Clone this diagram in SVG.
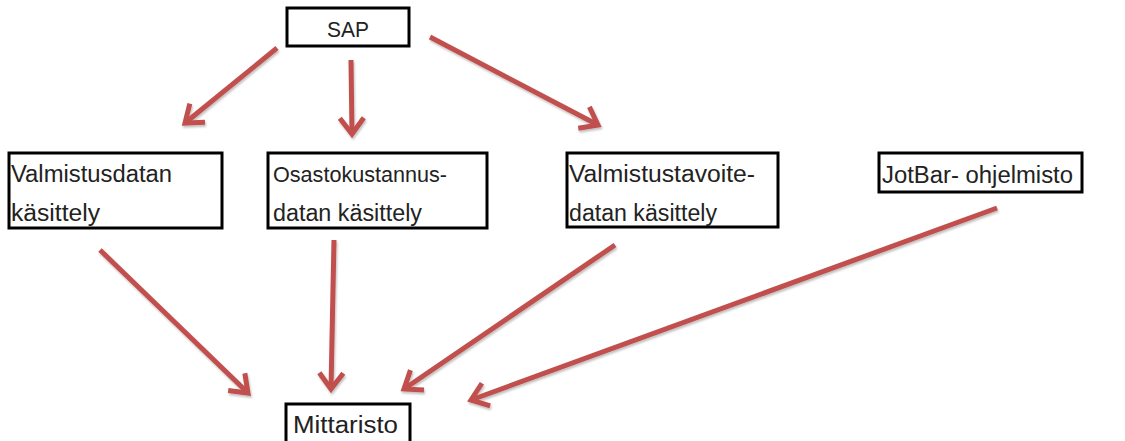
<svg xmlns="http://www.w3.org/2000/svg" width="1125" height="441" viewBox="0 0 1125 441">
<style>
.box{fill:#fff;stroke:#000;stroke-width:3}
.t{font-family:"Liberation Sans",Arial,sans-serif;font-size:23px;fill:#222}
.c{fill:none;stroke:#C0504D;stroke-width:5;stroke-linecap:butt}
</style>
<defs>
<marker id="ah" markerUnits="userSpaceOnUse" markerWidth="40" markerHeight="40" viewBox="-24 -20 30 40" refX="0" refY="0" orient="auto">
<path d="M-16,-12 L0,0 L-16,12" fill="none" stroke="#C0504D" stroke-width="5" stroke-linejoin="miter"/>
</marker>
<filter id="sh" x="-10%" y="-10%" width="120%" height="120%">
<feDropShadow dx="1" dy="2" stdDeviation="1.2" flood-color="#000" flood-opacity="0.25"/>
</filter>
</defs>
<rect width="1125" height="441" fill="#fff"/>
<g id="connectors" filter="url(#sh)">
<line class="c" x1="277" y1="48" x2="185" y2="123" marker-end="url(#ah)"/>
<line class="c" x1="351" y1="60" x2="352" y2="134" marker-end="url(#ah)"/>
<line class="c" x1="430" y1="37" x2="598" y2="125" marker-end="url(#ah)"/>
<line class="c" x1="100" y1="250" x2="248" y2="393" marker-end="url(#ah)"/>
<line class="c" x1="334" y1="240" x2="331" y2="389" marker-end="url(#ah)"/>
<line class="c" x1="615" y1="245" x2="404" y2="389" marker-end="url(#ah)"/>
<line class="c" x1="997" y1="208" x2="471" y2="400" marker-end="url(#ah)"/>
</g>
<g id="sap">
<rect class="box" x="287" y="8" width="122" height="38"/>
<text class="t" x="327" y="37" textLength="42" lengthAdjust="spacingAndGlyphs" style="font-size:22px">SAP</text>
</g>
<g id="valmistusdatan">
<rect class="box" x="9" y="153" width="213" height="75"/>
<text class="t" x="11" y="182" textLength="161" lengthAdjust="spacingAndGlyphs">Valmistusdatan</text>
<text class="t" x="11" y="221" textLength="89" lengthAdjust="spacingAndGlyphs">käsittely</text>
</g>
<g id="osastokustannus">
<rect class="box" x="268" y="153" width="219" height="75"/>
<text class="t" x="273" y="182" textLength="174" lengthAdjust="spacingAndGlyphs" style="font-size:22px">Osastokustannus-</text>
<text class="t" x="273" y="221" textLength="149" lengthAdjust="spacingAndGlyphs">datan käsittely</text>
</g>
<g id="valmistustavoite">
<rect class="box" x="567" y="153" width="211" height="74"/>
<text class="t" x="569" y="182" textLength="186" lengthAdjust="spacingAndGlyphs">Valmistustavoite-</text>
<text class="t" x="569" y="221" textLength="148" lengthAdjust="spacingAndGlyphs">datan käsittely</text>
</g>
<g id="jotbar">
<rect class="box" x="879" y="153" width="203" height="39"/>
<text class="t" x="882" y="183" textLength="191" lengthAdjust="spacingAndGlyphs">JotBar- ohjelmisto</text>
</g>
<g id="mittaristo">
<rect class="box" x="286" y="404" width="124" height="45"/>
<text class="t" x="293" y="433" textLength="105" lengthAdjust="spacingAndGlyphs">Mittaristo</text>
</g>
</svg>
